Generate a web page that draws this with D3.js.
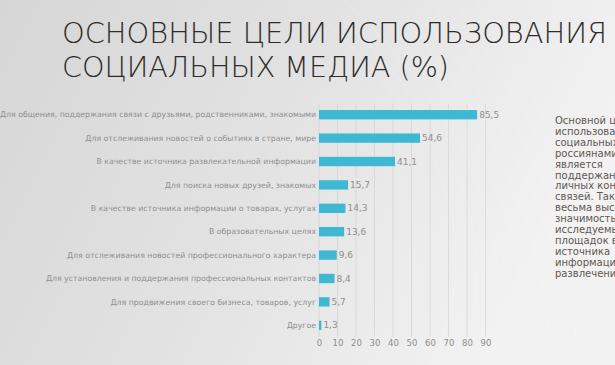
<!DOCTYPE html>
<html><head><meta charset="utf-8">
<script src="https://cdn.jsdelivr.net/npm/d3@7"></script>
<style>
html,body{margin:0;padding:0;overflow:hidden;}
svg{display:block;}
</style></head>
<body>
<svg id="c" width="615" height="365"></svg>
<script>
const titleLines = ["ОСНОВНЫЕ ЦЕЛИ ИСПОЛЬЗОВАНИЯ", "СОЦИАЛЬНЫХ МЕДИА (%)"];
const categories = [
  "Для общения, поддержания связи с друзьями, родственниками, знакомыми",
  "Для отслеживания новостей о событиях в стране, мире",
  "В качестве источника развлекательной информации",
  "Для поиска новых друзей, знакомых",
  "В качестве источника информации о товарах, услугах",
  "В образовательных целях",
  "Для отслеживания новостей профессионального характера",
  "Для установления и поддержания профессиональных контактов",
  "Для продвижения своего бизнеса, товаров, услуг",
  "Другое"
];
const values = [85.5, 54.6, 41.1, 15.7, 14.3, 13.6, 9.6, 8.4, 5.7, 1.3];
const ticks = [0, 10, 20, 30, 40, 50, 60, 70, 80, 90];
const sideText = ["Основной целью", "использования", "социальных медиа", "россиянами", "является",
  "поддержание", "личных контактов и", "связей. Также", "весьма высока", "значимость",
  "исследуемых", "площадок в качестве", "источника", "информации и", "развлечения."];

const svg = d3.select("#c");
const defs = svg.append("defs");
const g1 = defs.append("linearGradient").attr("id","bg").attr("x1","0").attr("y1","0").attr("x2","1").attr("y2","0.3");
g1.append("stop").attr("offset","0").attr("stop-color","#d6d6d6");
g1.append("stop").attr("offset","0.5").attr("stop-color","#e2e2e2");
g1.append("stop").attr("offset","1").attr("stop-color","#f2f2f2");
svg.append("rect").attr("width",615).attr("height",365).attr("fill","url(#bg)");

// faint background arcs
const arcs = svg.append("g").attr("fill","none").attr("stroke","#ffffff").attr("stroke-opacity",0.25).attr("stroke-width",0.6);
[0,1,2,3,4,5,6,7,8].forEach(i=>{
  arcs.append("path").attr("d", `M ${300+i*22} 0 Q ${520+i*8} 180 ${430+i*30} 365`);
});

const font = "'DejaVu Sans', sans-serif";

// Title
const title = svg.append("g").attr("fill","#2e2c2b").style("font-family",font).attr("font-weight",200);
titleLines.forEach((t,i)=>{
  title.append("text").attr("x",62).attr("y",43+i*34).attr("font-size",27.5)
    .attr("textLength", i===0?545:387).attr("lengthAdjust","spacingAndGlyphs").text(t);
});

const x = d3.scaleLinear().domain([0,90]).range([319,485.5]);
const y = d3.scaleBand().domain(categories).range([103,337]).paddingInner(0.6).paddingOuter(0.3);

// gridlines
svg.append("g").selectAll("line").data(ticks).join("line")
  .attr("x1",d=>x(d)).attr("x2",d=>x(d)).attr("y1",104).attr("y2",337)
  .attr("stroke","#cfcfcf").attr("stroke-opacity",0.6).attr("stroke-width",1);

// bars
svg.append("g").selectAll("rect").data(values).join("rect")
  .attr("x",x(0)).attr("y",(d,i)=>y(categories[i]))
  .attr("width",d=>x(d)-x(0)).attr("height",y.bandwidth())
  .attr("fill","#3fb8d4");

// value labels
svg.append("g").style("font-family",font).attr("font-size",9).attr("fill","#8e8e8e")
  .selectAll("text").data(values).join("text")
  .attr("x",d=>x(d)+2).attr("y",(d,i)=>y(categories[i])+y.bandwidth()/2)
  .attr("dy","0.35em").text(d=>String(d).replace(".",","));

// category labels
svg.append("g").style("font-family",font).attr("font-size",7.8).attr("fill","#8e8e8e")
  .selectAll("text").data(categories).join("text")
  .attr("x",316).attr("y",d=>y(d)+y.bandwidth()/2).attr("dy","0.35em")
  .attr("text-anchor","end").text(d=>d);

// x axis
const ax = svg.append("g").attr("transform","translate(0,340)")
  .call(d3.axisBottom(x).tickValues(ticks).tickSize(0).tickPadding(0));
ax.select(".domain").remove();
ax.selectAll("text").attr("fill","#8e8e8e").style("font-family",font).attr("font-size",8.5).attr("dy","0.71em");

// side text
const st = svg.append("text").attr("x",555).attr("y",124).style("font-family",font)
  .attr("font-size",10).attr("fill","#5e5853");
sideText.forEach((t,i)=>{
  st.append("tspan").attr("x",555).attr("y",124+i*10.9).text(t);
});
</script>
</body></html>
